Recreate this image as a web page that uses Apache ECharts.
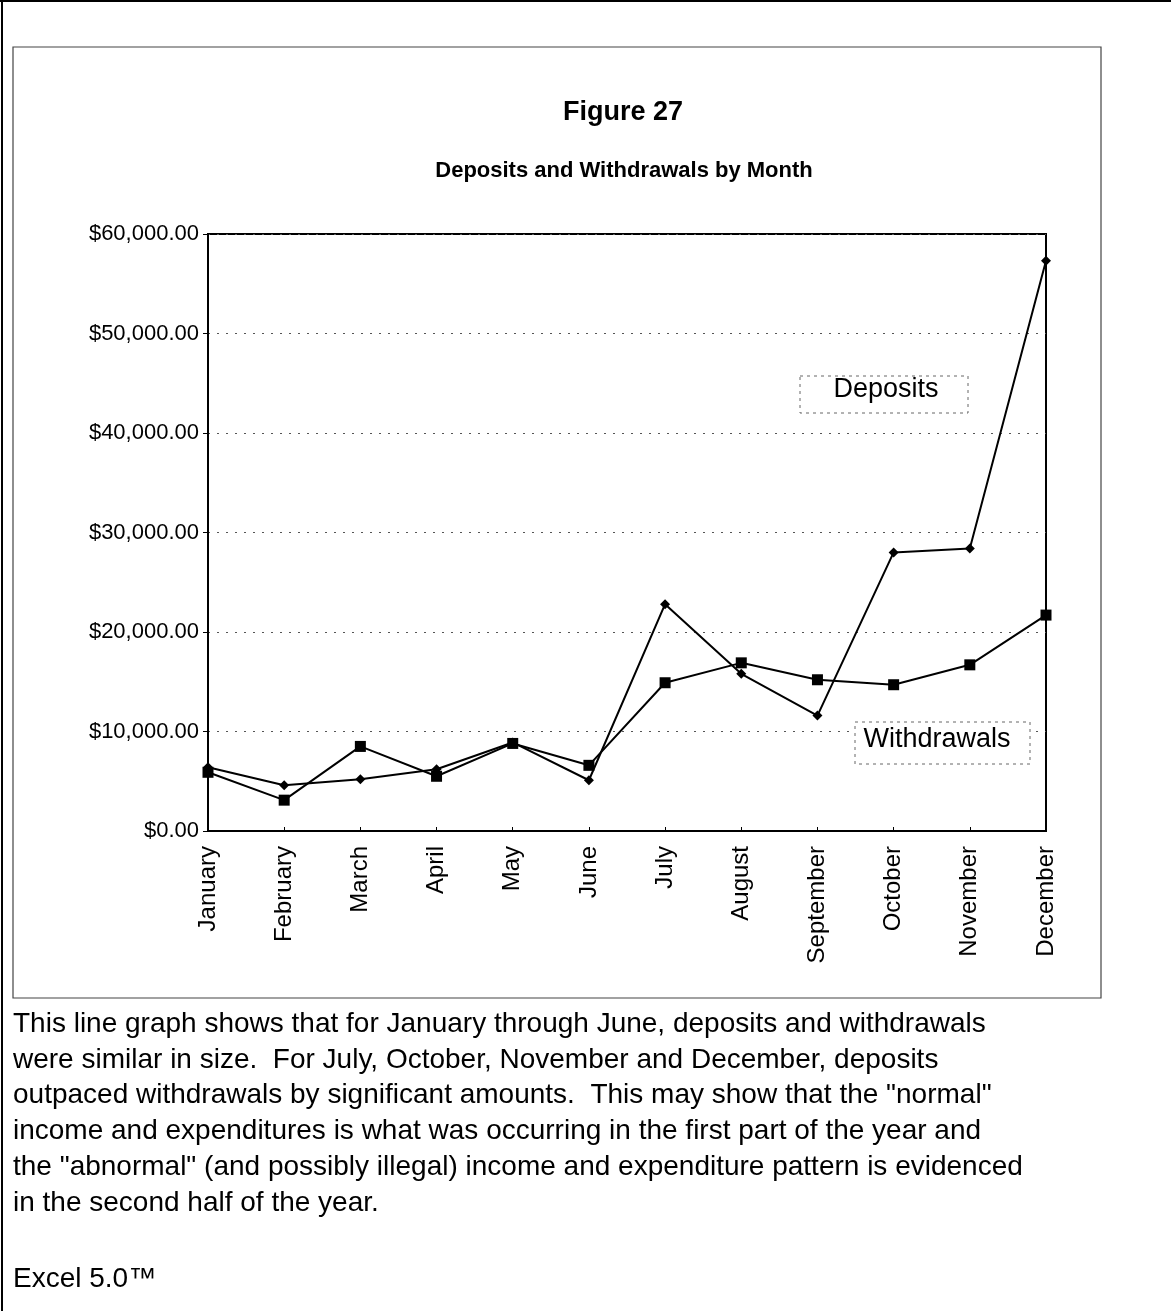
<!DOCTYPE html>
<html>
<head>
<meta charset="utf-8">
<script src="https://cdn.jsdelivr.net/npm/echarts@6/dist/echarts.min.js"></script>
<style>
html,body{margin:0;padding:0;background:#fff;}
#chart{width:1171px;height:1311px;}
</style>
</head>
<body>
<div id="chart"></div>
<script>
const months = ['January','February','March','April','May','June','July','August','September','October','November','December'];
const deposits = [6400, 4600, 5200, 6200, 8900, 5100, 22800, 15800, 11600, 28000, 28400, 57300];
const withdrawals = [5900, 3100, 8500, 5500, 8800, 6600, 14900, 16900, 15200, 14700, 16700, 21700];
const yMin = 0, yMax = 60000, yStep = 10000;
const titleText = 'Figure 27';
const subtitleText = 'Deposits and Withdrawals by Month';
const captionLines = [
  'This line graph shows that for January through June, deposits and withdrawals',
  'were similar in size.  For July, October, November and December, deposits',
  'outpaced withdrawals by significant amounts.  This may show that the "normal"',
  'income and expenditures is what was occurring in the first part of the year and',
  'the "abnormal" (and possibly illegal) income and expenditure pattern is evidenced',
  'in the second half of the year.'
];
const footerText = 'Excel 5.0\u2122';

const FONT = '"Liberation Sans", Arial, Helvetica, sans-serif';
const chart = echarts.init(document.getElementById('chart'), null, {renderer:'canvas'});

const graphics = [
  {type:'line', shape:{x1:2, y1:0, x2:2, y2:1311}, style:{stroke:'#000', lineWidth:2}},
  {type:'line', shape:{x1:0, y1:1, x2:1171, y2:1}, style:{stroke:'#000', lineWidth:2}},
  {type:'rect', shape:{x:13, y:47, width:1088, height:951}, style:{fill:null, stroke:'#444', lineWidth:1.2}},
  {type:'text', style:{text:titleText, font:'bold 27px ' + FONT, fill:'#000', textAlign:'center', textVerticalAlign:'middle', x:623, y:113}},
  {type:'text', style:{text:subtitleText, font:'bold 22px ' + FONT, fill:'#000', textAlign:'center', textVerticalAlign:'middle', x:624, y:171}},
  {type:'rect', shape:{x:800, y:376, width:168, height:37}, style:{fill:'#fff', stroke:'#666', lineWidth:1, lineDash:[3,4]}, z:10},
  {type:'text', style:{text:'Deposits', font:'27px ' + FONT, fill:'#000', textAlign:'center', textVerticalAlign:'middle', x:886, y:390}, z:11},
  {type:'rect', shape:{x:855, y:722, width:175, height:42}, style:{fill:'#fff', stroke:'#666', lineWidth:1, lineDash:[3,4]}, z:10},
  {type:'text', style:{text:'Withdrawals', font:'27px ' + FONT, fill:'#000', textAlign:'center', textVerticalAlign:'middle', x:937, y:740}, z:11}
];
captionLines.forEach((t,i)=>{
  graphics.push({type:'text', style:{text:t, font:'28px ' + FONT, fill:'#000', textAlign:'left', textVerticalAlign:'middle', x:13, y:1024 + i*35.8}});
});
graphics.push({type:'text', style:{text:footerText, font:'28px ' + FONT, fill:'#000', textAlign:'left', textVerticalAlign:'middle', x:13, y:1279}});

chart.setOption({
  animation:false,
  backgroundColor:'#fff',
  grid:{left:208, right:125, top:234, bottom:480, show:true, borderColor:'#000', borderWidth:2, backgroundColor:'transparent'},
  xAxis:{
    type:'category', data:months, boundaryGap:false,
    axisLine:{lineStyle:{color:'#000', width:2}},
    axisTick:{show:true, inside:true, length:4, lineStyle:{color:'#000'}},
    axisLabel:{rotate:90, margin:15, color:'#000', fontFamily:FONT, fontSize:24, interval:0},
    splitLine:{show:false}
  },
  yAxis:{
    type:'value', min:yMin, max:yMax, interval:yStep,
    axisLine:{show:true, lineStyle:{color:'#000', width:2}},
    axisTick:{show:true, length:5, lineStyle:{color:'#000'}},
    axisLabel:{margin:9, color:'#000', fontFamily:FONT, fontSize:22,
      formatter:v=>'$' + v.toLocaleString('en-US',{minimumFractionDigits:2, maximumFractionDigits:2})},
    splitLine:{show:true, lineStyle:{color:'#555', width:1, type:[2,7]}}
  },
  series:[
    {name:'Deposits', type:'line', data:deposits, symbol:'diamond', symbolSize:10,
      lineStyle:{color:'#000', width:2}, itemStyle:{color:'#000'}, z:3},
    {name:'Withdrawals', type:'line', data:withdrawals, symbol:'rect', symbolSize:11,
      lineStyle:{color:'#000', width:2}, itemStyle:{color:'#000'}, z:4}
  ],
  graphic:graphics
});
</script>
</body>
</html>
